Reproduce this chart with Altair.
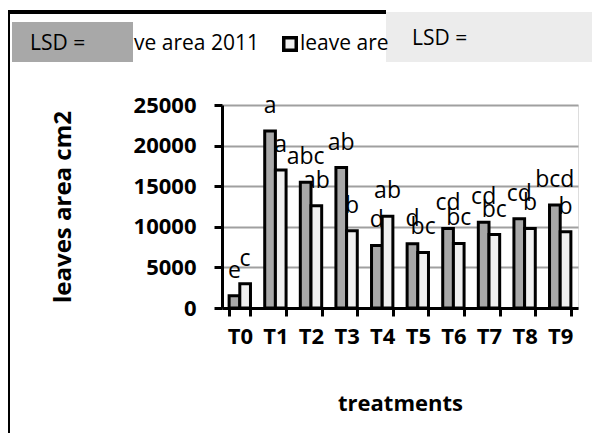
import altair as alt
import pandas as pd

treatments = ["T0", "T1", "T2", "T3", "T4", "T5", "T6", "T7", "T8", "T9"]
series = ["leave area 2011", "leave area 2012"]
area_2011 = [1500, 21800, 15500, 17300, 7700, 7900, 9800, 10550, 11000, 12700]
area_2012 = [3000, 17000, 12600, 9500, 11300, 6850, 7950, 9050, 9800, 9400]
letters_2011 = ["e", "a", "abc", "ab", "d", "d", "cd", "cd", "cd", "bcd"]
letters_2012 = ["c", "a", "ab", "b", "ab", "bc", "bc", "bc", "b", "b"]
y_ticks = [0, 5000, 10000, 15000, 20000, 25000]

rows = []
for t, v, l in zip(treatments, area_2011, letters_2011):
    rows.append({"treatment": t, "series": series[0], "area": v, "letter": l})
for t, v, l in zip(treatments, area_2012, letters_2012):
    rows.append({"treatment": t, "series": series[1], "area": v, "letter": l})
df = pd.DataFrame(rows)

FONT = "Open Sans"

x_enc = alt.X(
    "treatment:N",
    sort=treatments,
    scale=alt.Scale(paddingInner=0.4, paddingOuter=0.2),
    axis=alt.Axis(
        title="treatments",
        labelAngle=0,
        tickBand="extent",
        tickSize=8,
        tickWidth=3,
        tickColor="black",
        domainColor="black",
        domainWidth=3,
        labelFont=FONT,
        labelFontWeight="bold",
        labelFontSize=22,
        labelColor="black",
        labelPadding=10,
        titleFont=FONT,
        titleFontWeight="bold",
        titleFontSize=22,
        titleColor="black",
        titlePadding=46,
        grid=False,
    ),
)
y_enc = alt.Y(
    "area:Q",
    scale=alt.Scale(domain=[0, 25000], nice=False),
    axis=alt.Axis(
        title="leaves area  cm2",
        values=y_ticks,
        format="d",
        tickSize=8,
        tickWidth=3,
        tickColor="black",
        domainColor="black",
        domainWidth=3,
        labelFont=FONT,
        labelFontWeight="bold",
        labelFontSize=22,
        labelColor="black",
        labelPadding=18,
        titleFont=FONT,
        titleFontWeight="bold",
        titleFontSize=24,
        titleColor="black",
        titlePadding=58,
        grid=True,
        gridColor="#a0a0a0",
        gridWidth=2,
    ),
)
xoff = alt.XOffset("series:N", sort=series, scale=alt.Scale(paddingInner=0, paddingOuter=0))

labels = alt.Chart(df).mark_text(
    dy=-25, fontSize=23, font=FONT, color="black"
).encode(x=x_enc, xOffset=xoff, y=y_enc, text="letter:N")

bars = alt.Chart(df).mark_bar(stroke="black", strokeWidth=3).encode(
    x=x_enc,
    xOffset=xoff,
    y=y_enc,
    fill=alt.Fill("series:N", sort=series,
                  scale=alt.Scale(domain=series, range=["#a8a8a8", "#f0f0f0"]),
                  legend=None),
)

# decorative frame and overlapping legend boxes (pixel positions)
frame_left = alt.Chart(df).mark_rule(color="black", strokeWidth=3).encode(
    x=alt.value(-213.5), y=alt.value(-93), y2=alt.value(330))
frame_top = alt.Chart(df).mark_rule(color="black", strokeWidth=3).encode(
    x=alt.value(-214), x2=alt.value(164), y=alt.value(-93))
box_left = alt.Chart(df).mark_rect(fill="#a8a8a8").encode(
    x=alt.value(-210), x2=alt.value(-89), y=alt.value(-83), y2=alt.value(-43))
box_right = alt.Chart(df).mark_rect(fill="#ececec").encode(
    x=alt.value(164), x2=alt.value(380), y=alt.value(-93), y2=alt.value(-43))
swatch = alt.Chart(df).mark_rect(fill="#f0f0f0", stroke="black", strokeWidth=3).encode(
    x=alt.value(62), x2=alt.value(74), y=alt.value(-67), y2=alt.value(-55))

def txt(s, x, y):
    return alt.Chart(pd.DataFrame({"t": [s]})).mark_text(
        align="left", baseline="middle", fontSize=21, font=FONT, color="black"
    ).encode(x=alt.value(x), y=alt.value(y), text="t:N")

legend_txt = [
    txt("LSD =", -192, -61),
    txt("ve area 2011", -88, -61),
    txt("leave are", 78, -61),
    txt("LSD =", 190, -66),
]

chart = alt.layer(
    labels, bars, frame_left, frame_top, box_left, box_right, swatch, *legend_txt
).properties(
    width=356,
    height=203,
    autosize=alt.AutoSizeParams(type="none"),
    padding={"left": 214, "top": 97, "right": 14, "bottom": 125},
).configure_view(stroke=None).configure(background="white")

chart.save("out.html", embed_options={"renderer": "svg", "actions": False})
